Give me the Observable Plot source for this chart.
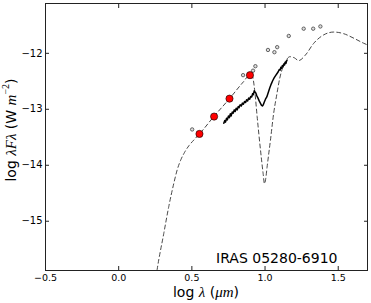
<!DOCTYPE html>
<html><head><meta charset="utf-8">
<script src="https://cdn.jsdelivr.net/npm/d3@7"></script>
<script src="https://cdn.jsdelivr.net/npm/@observablehq/plot@0.6"></script>
<style>body{margin:0;background:#fff}</style>
</head><body><div id="chart"></div>
<script>
// Axis ticks
const xTicks = [-0.5, 0.0, 0.5, 1.0, 1.5];
const yTicks = [-15, -14, -13, -12];
const xDomain = [-0.5, 1.7];
const yDomain = [-15.88, -11.11];
const objectName = "IRAS 05280-6910";

// Photometry (red points, IRAC bands)
const photLogLam = [0.552, 0.652, 0.757, 0.897];
const photLogF = [-13.44, -13.13, -12.81, -12.39];

// Other photometry (small open circles)
const otherLogLam = [0.502, 0.850, 0.918, 0.934, 1.020, 1.064, 1.083, 1.162, 1.264, 1.329, 1.378];
const otherLogF = [-13.36, -12.39, -12.31, -12.23, -11.94, -11.98, -11.89, -11.69, -11.56, -11.56, -11.52];

// Model SED (dashed)
const modelLogLam = [0.255, 0.263, 0.308, 0.342, 0.376, 0.400, 0.425, 0.450, 0.480, 0.513, 0.552, 0.650, 0.757, 0.852, 0.895, 0.912, 0.930, 0.946, 0.969, 0.987, 0.996, 1.004, 1.014, 1.037, 1.059, 1.080, 1.100, 1.120, 1.145, 1.170, 1.200, 1.230, 1.276, 1.333, 1.401, 1.469, 1.538, 1.606, 1.674, 1.700];
const modelLogF = [-16.00, -15.86, -15.22, -14.74, -14.33, -14.08, -13.90, -13.77, -13.65, -13.55, -13.44, -13.13, -12.81, -12.51, -12.39, -12.40, -12.68, -13.13, -13.73, -14.15, -14.33, -14.25, -14.03, -13.55, -13.07, -12.74, -12.45, -12.26, -12.12, -12.06, -12.08, -12.13, -12.03, -11.82, -11.67, -11.62, -11.65, -11.73, -11.82, -11.85];

// Spectrum (solid)
const specLogLam = [0.718, 0.725, 0.730, 0.737, 0.742, 0.750, 0.756, 0.763, 0.768, 0.776, 0.782, 0.790, 0.796, 0.803, 0.810, 0.817, 0.823, 0.830, 0.838, 0.845, 0.852, 0.860, 0.867, 0.874, 0.881, 0.888, 0.895, 0.902, 0.909, 0.915, 0.920, 0.926, 0.931, 0.937, 0.944, 0.952, 0.960, 0.968, 0.976, 0.982, 0.988, 0.995, 1.003, 1.012, 1.022, 1.032, 1.042, 1.052, 1.062, 1.072, 1.082, 1.090, 1.097, 1.103, 1.108, 1.113, 1.118, 1.123, 1.128, 1.133, 1.138, 1.143, 1.148, 1.151];
const specLogF = [-13.25, -13.20, -13.23, -13.16, -13.19, -13.12, -13.15, -13.08, -13.12, -13.05, -13.07, -13.01, -13.04, -12.98, -13.01, -12.95, -12.97, -12.92, -12.94, -12.89, -12.91, -12.86, -12.88, -12.83, -12.85, -12.80, -12.82, -12.77, -12.78, -12.72, -12.74, -12.67, -12.69, -12.71, -12.76, -12.80, -12.85, -12.89, -12.93, -12.94, -12.92, -12.87, -12.82, -12.78, -12.70, -12.62, -12.55, -12.49, -12.44, -12.40, -12.36, -12.33, -12.29, -12.30, -12.25, -12.27, -12.22, -12.24, -12.19, -12.21, -12.16, -12.18, -12.13, -12.12];

const zip = (xs, ys) => xs.map((x, i) => ({x, y: ys[i]}));
const phot = zip(photLogLam, photLogF);
const other = zip(otherLogLam, otherLogF);
const model = zip(modelLogLam, modelLogF);
const spec = zip(specLogLam, specLogF);

const fmtX = d3.format(".1f");
const fmtY = d3.format("d");

const chart = Plot.plot({
  width: 371,
  height: 303,
  marginLeft: 45,
  marginRight: 4,
  marginTop: 3,
  marginBottom: 33,
  style: {fontFamily: "DejaVu Sans", fontSize: "10px", color: "#000", background: "#fff"},
  x: {domain: xDomain, label: null},
  y: {domain: yDomain, label: null},
  marks: [
    Plot.line(model, {x: "x", y: "y", stroke: "#333", strokeWidth: 0.9, strokeDasharray: "4,3", clip: true, curve: "monotone-x"}),
    Plot.line(spec, {x: "x", y: "y", stroke: "#000", strokeWidth: 1.5}),
    Plot.dot(other, {x: "x", y: "y", r: 1.7, stroke: "#444", fill: "#ddd", strokeWidth: 0.8}),
    Plot.dot(phot, {x: "x", y: "y", r: 3.6, fill: "#ff0000", stroke: "#000", strokeWidth: 0.6}),
    Plot.frame({stroke: "#222", strokeWidth: 1}),
    Plot.axisX(xTicks, {anchor: "bottom", tickSize: -4, tickPadding: 8, tickFormat: fmtX, label: null, stroke: "#222", fontSize: 9.5}),
    Plot.axisX(xTicks, {anchor: "top", tickSize: -4, fill: "none", label: null, stroke: "#222"}),
    Plot.axisY(yTicks, {anchor: "left", tickSize: -4, tickPadding: 7, tickFormat: fmtY, label: null, stroke: "#222"}),
    Plot.axisY(yTicks, {anchor: "right", tickSize: -4, fill: "none", label: null, stroke: "#222"}),
    Plot.text([objectName], {frameAnchor: "bottom-right", dx: -30, dy: -8, textAnchor: "end", lineAnchor: "bottom", fontSize: 14, fill: "#000"})
  ]
});
document.getElementById("chart").appendChild(chart);

// Axis titles with math-style italics
const svg = d3.select(chart);
const serif = "Liberation Serif";
const xl = svg.append("text").attr("x", 206).attr("y", 297).attr("text-anchor", "middle")
  .attr("font-size", 14).attr("font-family", "DejaVu Sans").attr("fill", "#000");
xl.append("tspan").text("log ");
xl.append("tspan").attr("font-family", serif).attr("font-style", "italic").attr("font-size", 15).text("λ");
xl.append("tspan").text(" (");
xl.append("tspan").attr("font-family", serif).attr("font-style", "italic").attr("font-size", 15).text("μm");
xl.append("tspan").text(")");

const yl = svg.append("text").attr("transform", "translate(16,130) rotate(-90)").attr("text-anchor", "middle")
  .attr("font-size", 14).attr("font-family", "DejaVu Sans").attr("fill", "#000");
yl.append("tspan").text("log ");
yl.append("tspan").attr("font-family", serif).attr("font-style", "italic").attr("font-size", 15).text("λFλ");
yl.append("tspan").text(" (W ");
yl.append("tspan").attr("font-family", serif).attr("font-style", "italic").attr("font-size", 15).text("m");
yl.append("tspan").attr("font-family", serif).attr("font-size", 10).attr("dy", -7).text("−2");
yl.append("tspan").attr("dy", 7).text(")");
</script>
</body></html>
